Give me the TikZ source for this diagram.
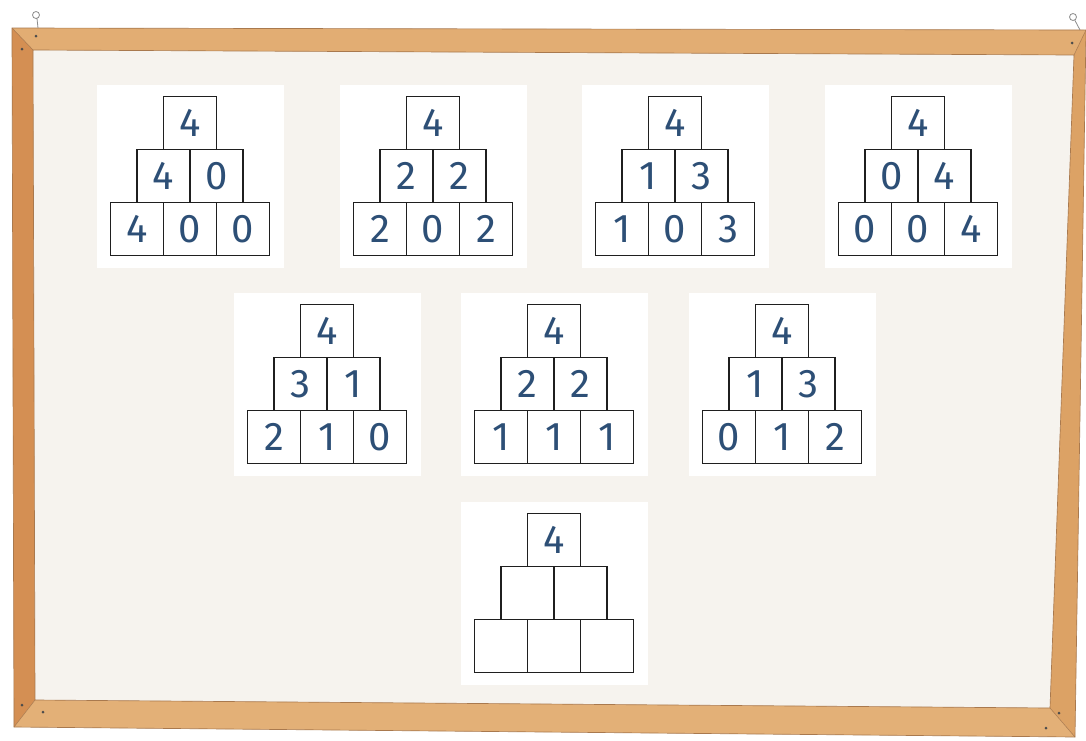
\documentclass[tikz,border=0pt]{standalone}
\usepackage{fontspec}
\setmainfont{Fira Sans}
\usepackage{tikz}
\usetikzlibrary{positioning}
\definecolor{paper}{HTML}{F6F3EE}
\definecolor{woodtop}{HTML}{E2AD73}
\definecolor{woodleft}{HTML}{D48F53}
\definecolor{woodright}{HTML}{DCA265}
\definecolor{woodbot}{HTML}{E3B077}
\definecolor{woodedge}{HTML}{A9794E}
\definecolor{digit}{HTML}{2D4F76}
\tikzset{
  cell/.style={draw=black!88, fill=white, line width=1.3pt, minimum size=39.75pt,
    inner sep=0pt, text=digit, font=\fontsize{30}{30}\selectfont},
  nail/.style={fill=black!70},
}

\begin{document}
\begin{tikzpicture}[x=0.75pt,y=-0.75pt]
  \useasboundingbox (0,0) rectangle (1086,740);
  \fill[white] (0,0) rectangle (1086,740);

  % paper
  \fill[paper] (33,50) -- (1074,55) -- (1050,708) -- (35,700) -- cycle;

  % frame
  \fill[woodtop] (12,28) -- (1086,30) -- (1074,55) -- (33,50) -- cycle;
  \fill[woodleft] (12,28) -- (33,50) -- (35,700) -- (14,727) -- cycle;
  \fill[woodright] (1086,30) -- (1075,737) -- (1050,708) -- (1074,55) -- cycle;
  \fill[woodbot] (35,700) -- (1050,708) -- (1075,737) -- (14,727) -- cycle;
  \draw[woodedge,line width=0.5pt] (12,28) -- (1086,30) -- (1075,737) -- (14,727) -- cycle;
  \draw[woodedge,line width=0.5pt] (33,50) -- (1074,55) -- (1050,708) -- (35,700) -- cycle;
  \draw[woodedge,line width=0.4pt] (12,28) -- (33,50) (1086,30) -- (1074,55)
    (1075,737) -- (1050,708) (14,727) -- (35,700);

  % pins and nails
  \draw[black!45,line width=0.6pt] (36,15) circle (3.5) (37,18.5) -- (38,28);
  \draw[black!45,line width=0.6pt] (1073,17) circle (3.5) (1075,20.5) -- (1080,30);
  \foreach \nx/\ny in {36/36,22/49,22/705,43/712,1059/713,1046/728,1072/43}
    \fill[nail] (\nx,\ny) circle (1.5);

  % pyramids
  \foreach \cx/\cy/\t/\ma/\mb/\ba/\bb/\bc [count=\i] in {
      190/123/4/4/0/4/0/0, 433/123/4/2/2/2/0/2, 675/123/4/1/3/1/0/3, 918/123/4/0/4/0/0/4,
      327/331/4/3/1/2/1/0, 554/331/4/2/2/1/1/1, 782/331/4/1/3/0/1/2,
      554/540/4/{}/{}/{}/{}/{}} {
    \fill[white] (\cx-93.5,\cy-38) rectangle (\cx+93.5,\cy+145);
    \node[cell] (p\i-t) at (\cx,\cy) {\t};
    \node[cell] (p\i-ml) at (\cx-26.5,\cy+53) {\ma};
    \node[cell] (p\i-mr) at (\cx+26.5,\cy+53) {\mb};
    \node[cell] (p\i-bl) at (\cx-53,\cy+106) {\ba};
    \node[cell] (p\i-bm) at (\cx,\cy+106) {\bb};
    \node[cell] (p\i-br) at (\cx+53,\cy+106) {\bc};
  }
\end{tikzpicture}
\end{document}
